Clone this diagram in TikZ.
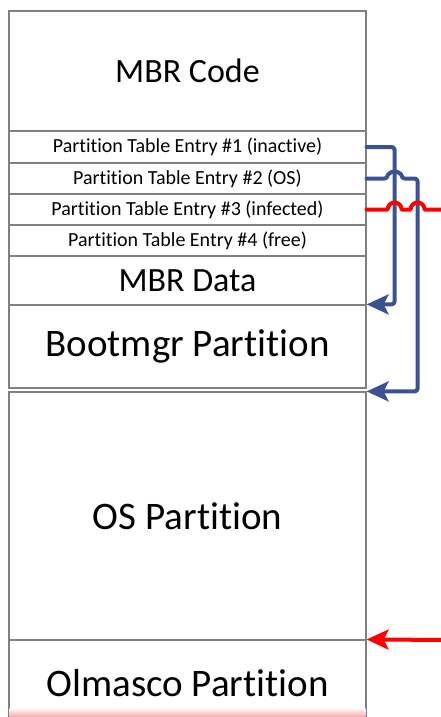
\documentclass[tikz,border=0pt]{standalone}
\usepackage{fontspec}
\setmainfont{Carlito}[Ligatures={NoCommon,NoRare}]
\usetikzlibrary{arrows.meta}
\definecolor{bl}{HTML}{3C5192}
\definecolor{bord}{HTML}{808080}
\begin{document}
\begin{tikzpicture}[x=1pt,y=-1pt,
  part/.style={draw=bord, line width=1.2pt, fill=white, minimum width=357pt, inner sep=0pt, anchor=center},
  big/.style={font=\fontsize{39}{44}\selectfont},
  mid/.style={font=\fontsize{34}{38}\selectfont},
  small/.style={font=\fontsize{20}{22}\selectfont},
  blueln/.style={draw=bl, line width=4pt, line cap=round, line join=round},
  redln/.style={draw=red, line width=4pt, line cap=round, line join=round},
  tip/.style={-{Stealth[length=22pt,width=20pt,inset=5pt]}}]
\useasboundingbox (0,0) rectangle (441,717);
\clip (0,0) rectangle (441,717);
\node[part, mid, minimum height=120pt] (mbr) at (187.5,71) {MBR Code};
\node[part, small, minimum height=32pt] (e1) at (187.5,147) {Partition Table Entry \#1 (inactive)};
\node[part, small, minimum height=31pt] (e2) at (187.5,178.5) {Partition Table Entry \#2 (OS)};
\node[part, small, minimum height=31pt] (e3) at (187.5,209.5) {Partition Table Entry \#3 (infected)};
\node[part, small, minimum height=31pt] (e4) at (187.5,240.5) {Partition Table Entry \#4 (free)};
\node[part, mid, minimum height=49pt] (data) at (187.5,280.5) {MBR Data};
\node[part, big, minimum height=83pt] (boot) at (187.5,346.5) {Bootmgr Partition};
\node[part, big, minimum height=248pt] (os) at (187.5,516) {OS Partition};
\node[part, big, minimum height=86pt, text depth=0pt] (olm) at (187.5,683) {};
\node[big] (olmt) at (187.5,683) {Olmasco Partition};
\shade[top color=white, bottom color=red!40] (9.7,708) rectangle (365.3,718);
\coordinate (redend) at (445,209.5);
\coordinate (redsrc) at (445,640);
% blue connectors
\draw[blueln, tip, rounded corners=3pt] (e1.east) -| ([xshift=28pt]boot.north east) -- (boot.north east);
\draw[blueln, tip, rounded corners=3pt] (e2.east) -- ([xshift=21pt]e2.east) arc[start angle=180, end angle=0, radius=7pt] -| ([xshift=51pt]os.north east) -- (os.north east);
% red connectors
\draw[redln] (e3.east) -- ([xshift=21pt]e3.east) arc[start angle=180, end angle=0, radius=7pt] -- ([xshift=44pt]e3.east) arc[start angle=180, end angle=0, radius=7pt] -- (redend);
\draw[redln, tip] (redsrc) -- (olm.north east);
\end{tikzpicture}
\end{document}
